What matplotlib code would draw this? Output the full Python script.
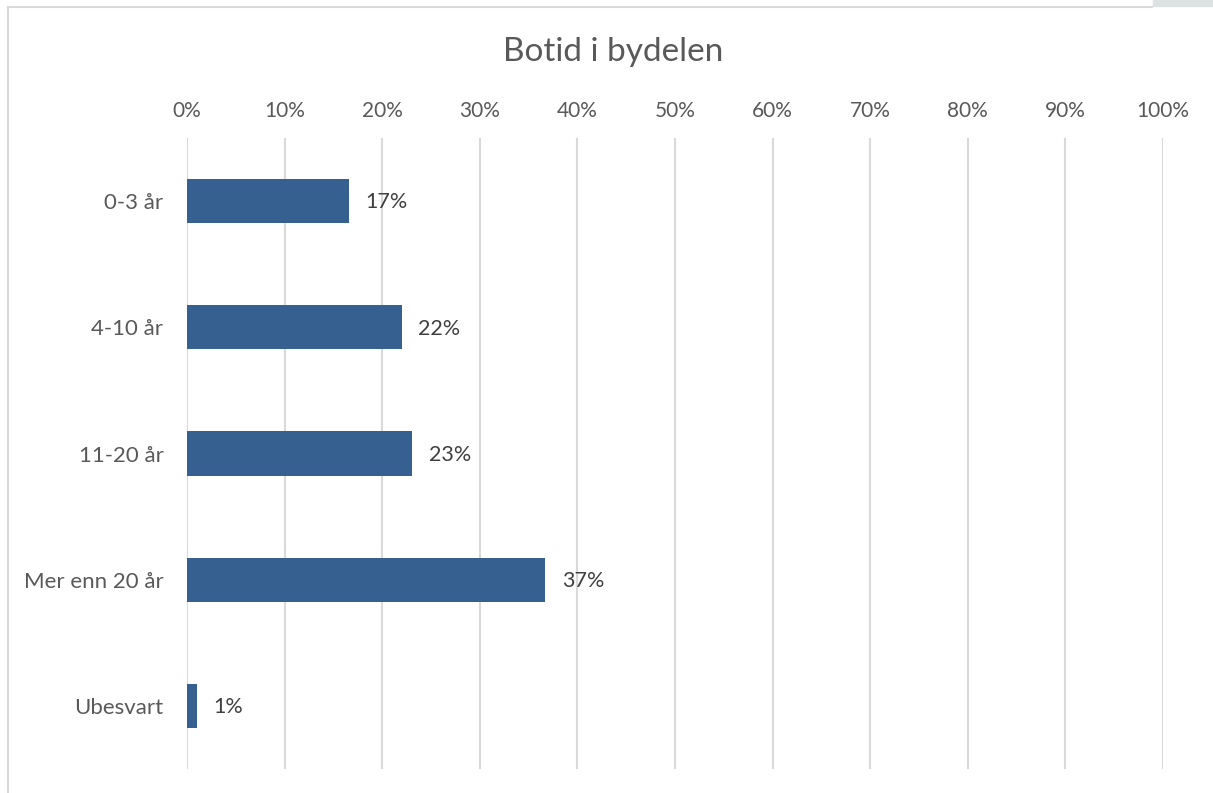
import matplotlib.pyplot as plt
from matplotlib.patches import Rectangle
from matplotlib.lines import Line2D
from matplotlib.ticker import FuncFormatter

kategorier = ["0-3 år", "4-10 år", "11-20 år", "Mer enn 20 år", "Ubesvart"]
andel = [16.6, 22.0, 23.1, 36.7, 1.0]
tittel = "Botid i bydelen"

plt.rcParams['font.family'] = ['Lato', 'DejaVu Sans']

fig = plt.figure(figsize=(12.13, 7.93), dpi=100)
ax = fig.add_axes([187 / 1213, 24 / 793, 976 / 1213, 631 / 793])

# ramme rundt diagrammet (bare venstre og topp synlig)
fig.add_artist(Line2D([8 / 1213, 8 / 1213], [0, 1 - 7 / 793], color='#d9d9d9', lw=1.5))
fig.add_artist(Line2D([8 / 1213, 1152 / 1213], [1 - 7 / 793, 1 - 7 / 793], color='#d9d9d9', lw=1.5))
fig.add_artist(Rectangle((1153 / 1213, 1 - 6 / 793), 60 / 1213, 6 / 793, color='#dde3e3'))

y = range(len(kategorier))
ax.barh(y, andel, height=0.35, color='#36608f', zorder=3)
for i, v in zip(y, andel):
    ax.annotate(f"{v:.0f}%", (v, i), xytext=(12, -1), textcoords='offset points',
                va='center', ha='left', fontsize=15.5, color='#404040')

ax.set_xlim(0, 100)
ax.set_ylim(len(kategorier) - 0.5, -0.5)
ax.set_xticks(range(0, 101, 10))
ax.xaxis.set_major_formatter(FuncFormatter(lambda x, p: f"{x:.0f}%"))
ax.xaxis.tick_top()
ax.set_yticks(list(y))
ax.set_yticklabels(kategorier)
ax.tick_params(axis='x', length=0, pad=12, labelsize=15, labelcolor='#595959')
ax.tick_params(axis='y', length=0, pad=17, labelsize=16, labelcolor='#595959')
ax.grid(axis='x', color='#d9d9d9', lw=1.5, zorder=0)
for s in ax.spines.values():
    s.set_visible(False)

fig.text(613 / 1213, 1 - 52 / 793, tittel, ha='center', va='center', fontsize=24, color='#595959')

fig.savefig("out.png", dpi=100)
